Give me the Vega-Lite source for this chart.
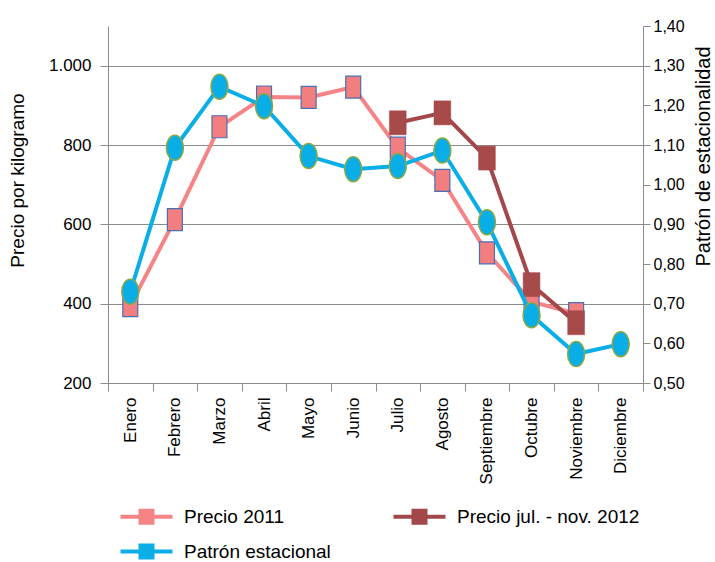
{
  "$schema": "https://vega.github.io/schema/vega-lite/v6.json",
  "width": 535,
  "height": 357,
  "autosize": {"type": "none"},
  "padding": {"left": 108, "top": 26, "right": 72, "bottom": 179},
  "background": "white",
  "config": {
    "font": "Liberation Sans",
    "view": {"stroke": null},
    "axis": {"labelFont": "Liberation Sans", "titleFont": "Liberation Sans", "labelColor": "#000", "titleColor": "#000", "titleFontWeight": "normal", "domainColor": "#8c8c8c", "tickColor": "#8c8c8c", "gridColor": "#8c8c8c", "labelFontSize": 16, "titleFontSize": 19}
  },
  "data": {"values": [
    {"mes": "Enero", "serie": "Precio 2011", "valor": 395},
    {"mes": "Febrero", "serie": "Precio 2011", "valor": 612},
    {"mes": "Marzo", "serie": "Precio 2011", "valor": 846},
    {"mes": "Abril", "serie": "Precio 2011", "valor": 921},
    {"mes": "Mayo", "serie": "Precio 2011", "valor": 920},
    {"mes": "Junio", "serie": "Precio 2011", "valor": 946},
    {"mes": "Julio", "serie": "Precio 2011", "valor": 792},
    {"mes": "Agosto", "serie": "Precio 2011", "valor": 711},
    {"mes": "Septiembre", "serie": "Precio 2011", "valor": 528},
    {"mes": "Octubre", "serie": "Precio 2011", "valor": 405},
    {"mes": "Noviembre", "serie": "Precio 2011", "valor": 375},
    {"mes": "Julio", "serie": "Precio jul. - nov. 2012", "valor": 856},
    {"mes": "Agosto", "serie": "Precio jul. - nov. 2012", "valor": 881},
    {"mes": "Septiembre", "serie": "Precio jul. - nov. 2012", "valor": 767},
    {"mes": "Octubre", "serie": "Precio jul. - nov. 2012", "valor": 448},
    {"mes": "Noviembre", "serie": "Precio jul. - nov. 2012", "valor": 352},
    {"mes": "Enero", "serie": "Patrón estacional", "valor": 0.73},
    {"mes": "Febrero", "serie": "Patrón estacional", "valor": 1.093},
    {"mes": "Marzo", "serie": "Patrón estacional", "valor": 1.247},
    {"mes": "Abril", "serie": "Patrón estacional", "valor": 1.198},
    {"mes": "Mayo", "serie": "Patrón estacional", "valor": 1.072},
    {"mes": "Junio", "serie": "Patrón estacional", "valor": 1.039},
    {"mes": "Julio", "serie": "Patrón estacional", "valor": 1.047},
    {"mes": "Agosto", "serie": "Patrón estacional", "valor": 1.086},
    {"mes": "Septiembre", "serie": "Patrón estacional", "valor": 0.905},
    {"mes": "Octubre", "serie": "Patrón estacional", "valor": 0.671},
    {"mes": "Noviembre", "serie": "Patrón estacional", "valor": 0.573},
    {"mes": "Diciembre", "serie": "Patrón estacional", "valor": 0.598}
  ]},
  "encoding": {
    "x": {"field": "mes", "type": "nominal",
      "scale": {"type": "band", "paddingInner": 0, "paddingOuter": 0,
        "domain": ["Enero", "Febrero", "Marzo", "Abril", "Mayo", "Junio", "Julio", "Agosto", "Septiembre", "Octubre", "Noviembre", "Diciembre"]},
      "axis": {"title": null, "labelAngle": -90, "tickBand": "extent", "tickSize": 8, "labelPadding": 6, "labelFontSize": 17}}
  },
  "layer": [
    {
      "transform": [{"filter": "datum.serie !== 'Patrón estacional'"}],
      "encoding": {
        "y": {"field": "valor", "type": "quantitative",
          "scale": {"domain": [200, 1100], "nice": false, "zero": false},
          "axis": {"title": "Precio por kilogramo", "values": [200, 400, 600, 800, 1000], "grid": true, "tickSize": 8, "labelPadding": 9, "labelFontSize": 17,
            "labelExpr": "replace(format(datum.value, ','), ',', '.')", "titleAngle": -90, "titleX": -81, "titleY": 154, "titleAlign": "center", "titleBaseline": "bottom"}}
      },
      "layer": [
        {"mark": {"type": "line", "strokeWidth": 4},
          "encoding": {"color": {"field": "serie", "type": "nominal",
            "scale": {"domain": ["Precio 2011", "Patrón estacional", "Precio jul. - nov. 2012"], "range": ["#f48486", "#0aaee6", "#a3484a"]},
            "legend": {"title": null, "orient": "none", "legendX": 29, "legendY": 481, "columns": 2, "columnPadding": 62, "rowPadding": 15,
              "labelFontSize": 19, "labelFont": "Liberation Sans", "labelColor": "#000", "labelOffset": 28, "labelLimit": 400, "symbolSize": 256,
              "symbolType": "M-3.25,-0.25 L3.25,-0.25 L3.25,0.25 L-3.25,0.25 Z M-1,-1 L1,-1 L1,1 L-1,1 Z",
              "encode": {"symbols": {"update": {"fill": {"scale": "color", "field": "value"}, "stroke": {"value": "transparent"}, "strokeWidth": {"value": 0}, "opacity": {"value": 1}}}}}}}},
        {"transform": [{"filter": "datum.serie === 'Precio 2011'"}],
          "mark": {"type": "point", "filled": true, "fill": "#f27e80", "stroke": "#4a6fb5", "strokeWidth": 1.2, "opacity": 1, "size": 484,
            "shape": "M-0.68,-1 L0.68,-1 L0.68,1 L-0.68,1 Z"}},
        {"transform": [{"filter": "datum.serie === 'Precio jul. - nov. 2012'"}],
          "mark": {"type": "point", "filled": true, "fill": "#a64a4a", "stroke": "#a64a4a", "strokeWidth": 0.5, "opacity": 1, "size": 576,
            "shape": "M-0.7,-1 L0.7,-1 L0.7,1 L-0.7,1 Z"}}
      ]
    },
    {
      "transform": [{"filter": "datum.serie === 'Patrón estacional'"}],
      "encoding": {
        "y": {"field": "valor", "type": "quantitative",
          "scale": {"domain": [0.5, 1.4], "nice": false, "zero": false},
          "axis": {"title": "Patrón de estacionalidad", "orient": "right", "values": [0.5, 0.6, 0.7, 0.8, 0.9, 1.0, 1.1, 1.2, 1.3, 1.4], "grid": false, "tickSize": 7, "labelPadding": 3, "labelFontSize": 16,
            "labelExpr": "replace(format(datum.value, '.2f'), '.', ',')", "titleAngle": -90, "titleX": 70, "titleY": 130, "titleFontSize": 20, "titleAlign": "center", "titleBaseline": "bottom"}}
      },
      "layer": [
        {"mark": {"type": "line", "strokeWidth": 4},
          "encoding": {"color": {"field": "serie", "type": "nominal", "legend": null}}},
        {"mark": {"type": "point", "filled": true, "fill": "#0aaee6", "stroke": "#8da843", "strokeWidth": 1.5, "opacity": 1, "size": 625,
            "shape": "M-0.68,0 A0.68,1 0 1,1 0.68,0 A0.68,1 0 1,1 -0.68,0 Z"}}
      ]
    }
  ],
  "resolve": {"scale": {"y": "independent"}}
}
